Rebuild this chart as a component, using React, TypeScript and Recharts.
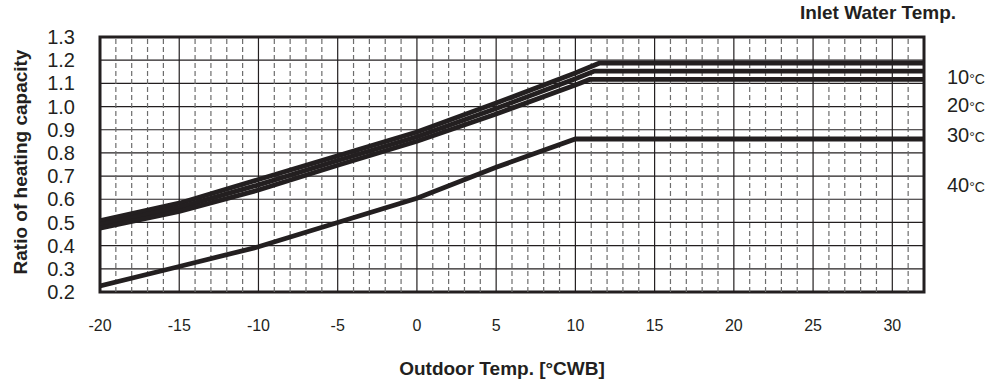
import { LineChart, Line, XAxis, YAxis, CartesianGrid, ReferenceLine, ReferenceArea } from 'recharts'

const temps10 = [-20, -15, -10, -5, 0, 5, 10, 11.5, 32]
const ratio10 = [0.507, 0.583, 0.685, 0.787, 0.89, 1.015, 1.145, 1.187, 1.187]
const temps20 = [-20, -15, -10, -5, 0, 5, 10, 11.2, 32]
const ratio20 = [0.49, 0.565, 0.662, 0.767, 0.87, 0.992, 1.12, 1.153, 1.153]
const temps30 = [-20, -15, -10, -5, 0, 5, 10, 10.9, 32]
const ratio30 = [0.475, 0.548, 0.64, 0.747, 0.85, 0.968, 1.093, 1.117, 1.117]
const temps40 = [-20, -15, -10, -5, 0, 5, 10, 32]
const ratio40 = [0.226, 0.31, 0.395, 0.5, 0.604, 0.738, 0.86, 0.86]

const xTicks = [-20, -15, -10, -5, 0, 5, 10, 15, 20, 25, 30]
const yTicks = [0.2, 0.3, 0.4, 0.5, 0.6, 0.7, 0.8, 0.9, 1.0, 1.1, 1.2, 1.3]
const waterTemps = ['10', '20', '30', '40']

const INK = '#231f20'
const FONT = '"Liberation Sans", Arial, sans-serif'

const toPoints = (xs: number[], ys: number[]) => xs.map((x, i) => ({ x, y: ys[i] }))

const series = [
  toPoints(temps10, ratio10),
  toPoints(temps20, ratio20),
  toPoints(temps30, ratio30),
  toPoints(temps40, ratio40),
]

// every whole degree gets a dashed line, every 5 a solid one
const minorX: number[] = []
for (let t = -19; t < 32; t++) if (t % 5 !== 0) minorX.push(t)
const majorX = xTicks.filter(t => t > -20)

const labelY = [77, 105, 135, 185]

export default function App() {
  return (
    <div style={{ position: 'absolute', left: 0, top: 0, width: 997, height: 385, background: '#fff' }}>
      <LineChart width={997} height={385} margin={{ top: 37, right: 73, bottom: 0, left: 0 }}>
        <CartesianGrid vertical={false} stroke={INK} strokeWidth={1.2} />
        {minorX.map(t => (
          <ReferenceLine key={`m${t}`} x={t} stroke="#6d6d6d" strokeWidth={1.2} strokeDasharray="5 3" />
        ))}
        {majorX.map(t => (
          <ReferenceLine key={`M${t}`} x={t} stroke={INK} strokeWidth={1.2} />
        ))}
        <XAxis
          type="number"
          dataKey="x"
          domain={[-20, 32]}
          ticks={xTicks}
          interval={0}
          allowDataOverflow
          height={93}
          axisLine={false}
          tickLine={false}
          tickMargin={22}
          tick={{ fill: INK, fontSize: 16, fontFamily: '"Liberation Sans Narrow", "Liberation Sans", Arial, sans-serif' }}
        />
        <YAxis
          type="number"
          dataKey="y"
          domain={[0.2, 1.3]}
          ticks={yTicks}
          interval={0}
          allowDataOverflow
          width={100}
          axisLine={false}
          tickLine={false}
          tickMargin={19}
          tickFormatter={(v: number) => v.toFixed(1)}
          tick={{ fill: INK, fontSize: 20, fontFamily: FONT }}
        />
        {series.map((d, i) => (
          <Line
            key={i}
            data={d}
            dataKey="y"
            type="linear"
            stroke={INK}
            strokeWidth={4.8}
            dot={false}
            isAnimationActive={false}
          />
        ))}
        <ReferenceArea x1={-20} x2={32} y1={0.2} y2={1.3} fill="none" stroke={INK} strokeWidth={3} />
      </LineChart>
      <svg width={997} height={385} style={{ position: 'absolute', left: 0, top: 0, pointerEvents: 'none' }}>
        <text x={878} y={19} textAnchor="middle" fontFamily={FONT} fontWeight="bold" fontSize={19} fill={INK}>
          Inlet Water Temp.
        </text>
        {waterTemps.map((w, i) => (
          <text key={w} x={947} y={labelY[i] + 7} fontFamily={FONT} fontSize={20} fill={INK}>
            {w}
            <tspan fontSize={14}>°C</tspan>
          </text>
        ))}
        <text x={502} y={375} textAnchor="middle" fontFamily={FONT} fontWeight="bold" fontSize={19} fill={INK}>
          Outdoor Temp. [°CWB]
        </text>
        <text
          x={0}
          y={0}
          transform="translate(27,162) rotate(-90)"
          textAnchor="middle"
          fontFamily={FONT}
          fontWeight="bold"
          fontSize={19}
          fill={INK}
        >
          Ratio of heating capacity
        </text>
      </svg>
    </div>
  )
}
